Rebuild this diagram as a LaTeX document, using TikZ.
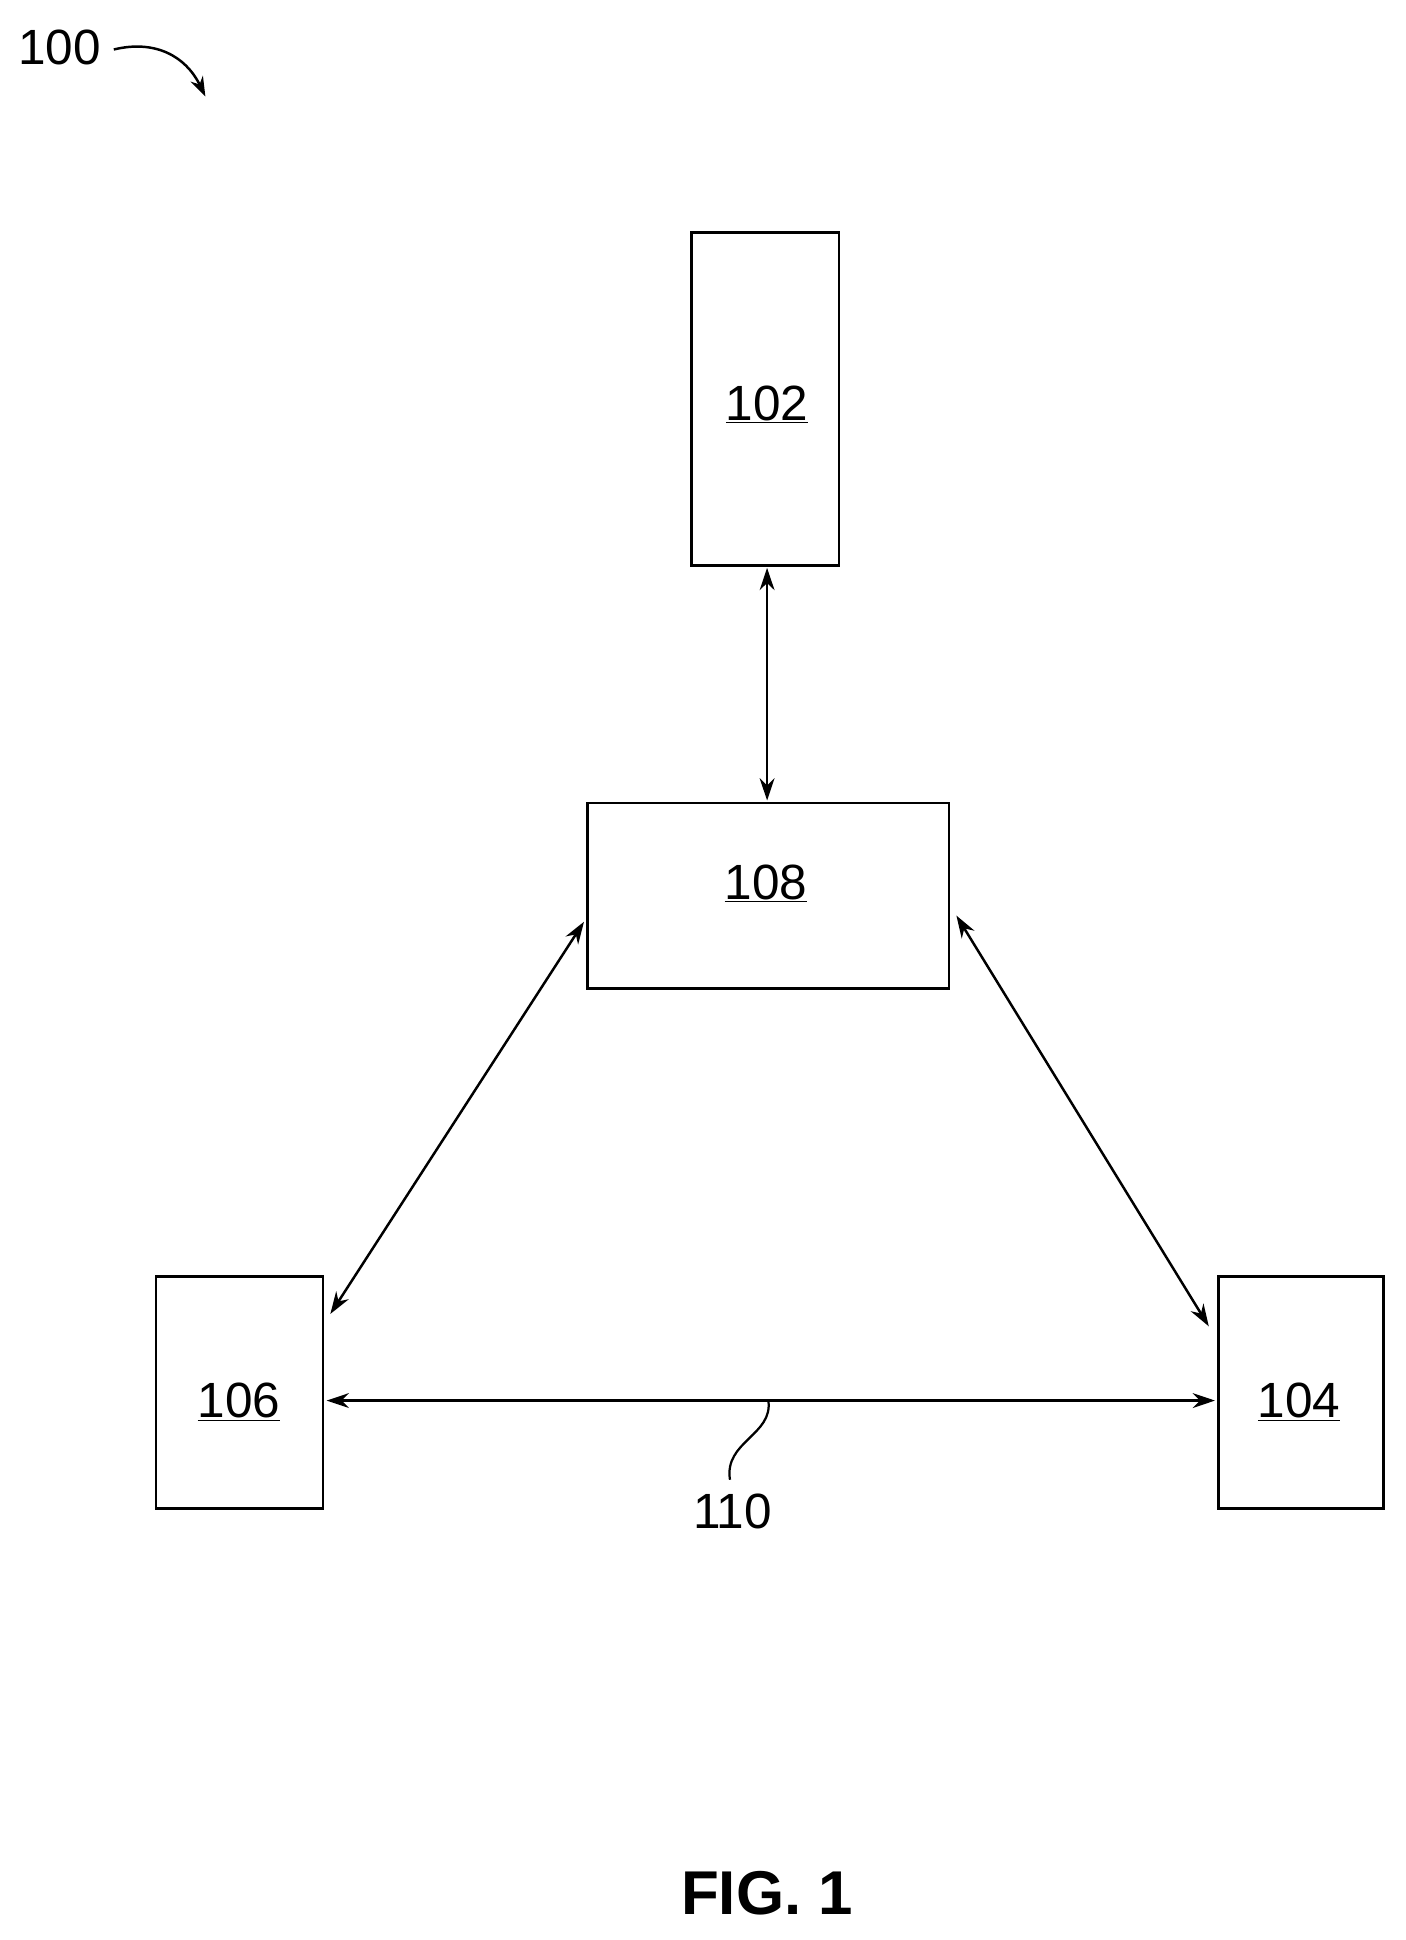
\documentclass[tikz,border=0pt]{standalone}
\usepackage{fontspec}
\setmainfont{Liberation Sans}
\usetikzlibrary{arrows.meta}
\begin{document}
\begin{tikzpicture}[x=1pt,y=-1pt,
  box/.style={draw,line width=2.2pt},
  lbl/.style={font=\fontsize{40}{40}\selectfont},
  conn/.style={line width=2pt,{Stealth[length=18pt,width=12pt]}-{Stealth[length=18pt,width=12pt]}}]
\useasboundingbox (0,0) rectangle (1136,1568);
\draw[box] (559,188) rectangle (678,457); \coordinate (b102t) at (620,457);
\node[lbl] (t102) at (620,327) {\underline{102}};
\draw[box] (475,649) rectangle (767,799);
\node[lbl] (t108) at (619,714) {\underline{108}};
\draw[box] (126,1032) rectangle (261,1219);
\node[lbl] (t106) at (193,1133) {\underline{106}};
\draw[box] (985,1032) rectangle (1118,1219);
\node[lbl] (t104) at (1050,1133) {\underline{104}};
\coordinate (a1) at (620,459); \coordinate (a2) at (620,647);
\coordinate (b1) at (472,745); \coordinate (b2) at (267,1062);
\coordinate (c1) at (773,740); \coordinate (c2) at (977,1072);
\coordinate (d1) at (264,1132); \coordinate (d2) at (982,1132);
\draw[conn] (a1) -- (a2);
\draw[conn] (b1) -- (b2);
\draw[conn] (c1) -- (c2);
\draw[conn] (d1) -- (d2);
\node[lbl] (t110) at (592,1222) {110};
\coordinate (s1) at (621,1132); \coordinate (s2) at (590,1196);
\draw[line width=1.8pt] (s1) .. controls (625,1160) and (585,1165) .. (s2);
\node[lbl] (t100) at (48,38) {100};
\coordinate (p1) at (92,40); \coordinate (p2) at (166,78);
\draw[line width=2pt,-{Stealth[length=16pt,width=11pt]}] (p1) .. controls (125,32) and (150,45) .. (p2);
\node[font=\fontsize{50}{50}\selectfont\bfseries] (fig) at (620,1530) {FIG. 1};
\end{tikzpicture}
\end{document}
